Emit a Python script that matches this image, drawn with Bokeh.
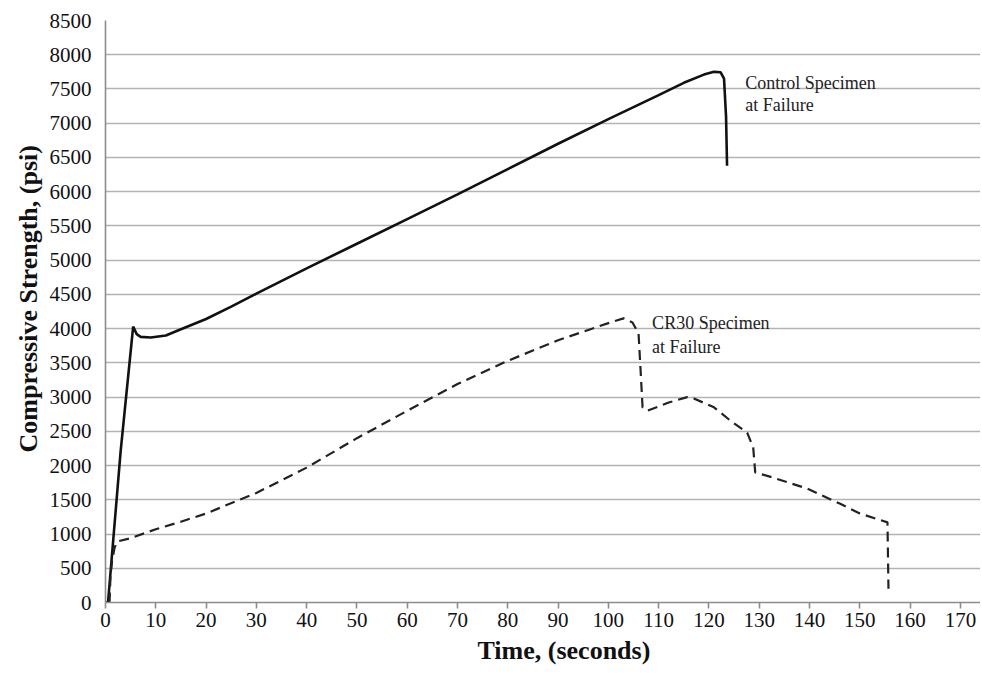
from bokeh.plotting import figure
from bokeh.models import FixedTicker, Label, Range1d, Title
from bokeh.embed import file_html
from bokeh.resources import INLINE

# Control specimen (solid)
control_t = [0.0, 0.5, 3.0, 5.5, 6.2, 7.0, 9.0, 12.0, 15.0, 20.0, 25.0, 30.0, 40.0, 50.0,
             60.0, 70.0, 80.0, 90.0, 100.0, 110.0, 115.0, 119.0, 121.0, 122.3, 123.0,
             123.4, 123.6]
control_psi = [0, 0, 2200, 4030, 3920, 3880, 3870, 3900, 3990, 4140, 4320, 4510, 4880, 5240,
               5600, 5960, 6330, 6700, 7060, 7410, 7590, 7710, 7750, 7745, 7650, 7100, 6380]

# CR30 specimen (dashed)
cr30_t = [0.8, 1.0, 1.3, 1.8, 2.3, 5.0, 10.0, 15.0, 20.0, 30.0, 40.0, 50.0, 60.0, 70.0,
          80.0, 90.0, 100.0, 103.0, 104.8, 106.0, 106.4, 106.8, 107.7, 112.0, 115.7, 117.0,
          121.0, 124.2, 127.6, 128.8, 129.2, 132.7, 139.5, 146.0, 150.0, 155.5, 155.7]
cr30_psi = [0, 400, 600, 800, 890, 940, 1070, 1180, 1300, 1600, 1970, 2400, 2800, 3190,
            3530, 3830, 4080, 4150, 4090, 3930, 3400, 2850, 2800, 2920, 3000, 2980,
            2850, 2660, 2480, 2265, 1900, 1825, 1665, 1445, 1300, 1170, 200]

x_ticks = [0, 10, 20, 30, 40, 50, 60, 70, 80, 90, 100, 110, 120, 130, 140, 150, 160, 170]
y_ticks = [0, 500, 1000, 1500, 2000, 2500, 3000, 3500, 4000, 4500, 5000, 5500, 6000,
           6500, 7000, 7500, 8000, 8500]

x_title = "Time, (seconds)"
y_title = "Compressive Strength, (psi)"

FONT = "Liberation Serif"

p = figure(width=980, height=672, output_backend="svg", toolbar_location=None,
           x_range=Range1d(0, 174), y_range=Range1d(0, 8500),
           min_border_left=105, min_border_right=0, min_border_top=20, min_border_bottom=70)
p.outline_line_color = None
p.background_fill_color = "white"

p.line(control_t, control_psi, line_color="#111111", line_width=2.6)
p.line(cr30_t, cr30_psi, line_color="#222222", line_width=2.2, line_dash="10 6")

p.xaxis.ticker = FixedTicker(ticks=x_ticks)
p.yaxis.ticker = FixedTicker(ticks=y_ticks)
p.xgrid.grid_line_color = None
p.ygrid.grid_line_color = "#b3b3b3"
p.ygrid.grid_line_width = 1.6

for ax in (p.xaxis[0], p.yaxis[0]):
    ax.axis_line_color = "#8c8c8c"
    ax.axis_line_width = 1.6
    ax.major_label_text_font = FONT
    ax.major_label_text_font_size = "21px"
    ax.major_label_text_color = "#111111"
    ax.minor_tick_line_color = None

p.xaxis.major_tick_line_color = "#8c8c8c"
p.xaxis.major_tick_line_width = 1.6
p.xaxis.major_tick_out = 6
p.xaxis.major_tick_in = 0
p.yaxis.major_tick_line_color = None
p.xaxis.major_label_standoff = 4
p.yaxis.major_label_standoff = 8

# axis titles as side titles (offset from the frame centre as in the reference)
p.add_layout(Title(text=x_title, align="left", offset=372, text_font=FONT,
                   text_font_size="26px", text_font_style="bold", text_color="#111111",
                   standoff=8), "below")
p.add_layout(Title(text=y_title, align="left", offset=150, text_font=FONT,
                   text_font_size="26px", text_font_style="bold", text_color="#111111",
                   standoff=8), "left")

for txt, x, y in [("Control Specimen", 127.2, 7580), ("at Failure", 127.2, 7260),
                  ("CR30 Specimen", 108.7, 4075), ("at Failure", 108.7, 3725)]:
    p.add_layout(Label(x=x, y=y, text=txt, text_font=FONT, text_font_size="18px",
                       text_color="#222222", text_baseline="alphabetic"))

open("out.html", "w").write(file_html(p, INLINE))
